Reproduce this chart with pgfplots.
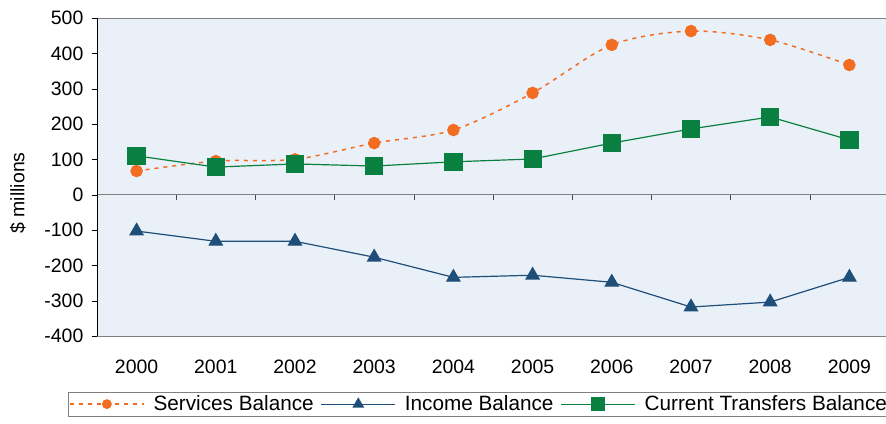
\documentclass[border=0pt]{standalone}
\usepackage{pgfplots}
\pgfplotsset{compat=1.18}
\usepackage{fontspec}
\setmainfont{Liberation Sans}
\definecolor{svc}{RGB}{242,108,34}
\definecolor{inc}{RGB}{31,78,121}
\definecolor{ctb}{RGB}{10,128,64}
\definecolor{bgblue}{RGB}{234,240,248}
\begin{document}
\fontsize{19.5}{22}\selectfont
\begin{tikzpicture}
\begin{axis}[
  scale only axis, width=792bp, height=318bp,
  xmin=-0.5, xmax=9.5, ymin=-400, ymax=500,
  ytick={-400,-300,...,500},
  xtick={0,...,9},
  xticklabels={2000,2001,2002,2003,2004,2005,2006,2007,2008,2009},
  xtick style={draw=none},
  xticklabel style={yshift=-12bp},
  ytick pos=left, tick align=outside,
  major tick length=5bp,
  ytick style={black},
  yticklabel style={xshift=-2bp},
  /pgf/number format/assume math mode=true,
  axis line style={draw=none},
  axis background/.style={fill=bgblue},
  ylabel={\$ millions},
  ylabel style={at={(axis description cs:-0.1,0.45)}, anchor=center},
  clip=false,
  legend columns=3,
  legend style={at={(axis description cs:-0.0367,-0.176)}, anchor=north west,
    draw=gray, fill=white, inner sep=1bp, column sep=7bp,
    font=\fontsize{20.8}{24}\selectfont,
    /tikz/every even column/.append style={column sep=5bp}},
  legend cell align=left,
  legend image code/.code={\draw[#1, every mark/.append style={scale=0.75}, mark repeat=2, mark phase=2]
    plot coordinates {(0bp,0bp) (37bp,0bp) (74bp,0bp)};},
]
\draw[gray] (rel axis cs:0,0) -- (rel axis cs:1.02,0);
\draw[gray] (rel axis cs:0,1) -- (rel axis cs:1.02,1);
\draw[gray] (axis cs:-0.5,0) -- (axis cs:10,0);
\draw[black] (rel axis cs:0,0) -- (rel axis cs:0,1);
\pgfplotsinvokeforeach{0.5,1.5,2.5,3.5,4.5,5.5,6.5,7.5,8.5}{\draw[black!70] (axis cs:#1,0) -- ([yshift=-5bp]axis cs:#1,0);}
\addplot[svc, line width=1.5bp, dash pattern=on 4bp off 5bp, smooth, tension=0.5,
  mark=*, mark size=5.5bp, mark options={solid, draw=svc, fill=svc}] coordinates {
  (0,67) (1,95) (2,100) (3,146) (4,183) (5,288) (6,424) (7,463) (8,438) (9,367)};
\addlegendentry{Services Balance}
\addplot[inc, line width=1.2bp,
  mark=triangle*, mark size=7.5bp, mark options={solid, fill=inc}] coordinates {
  (0,-103) (1,-132) (2,-132) (3,-177) (4,-234) (5,-228) (6,-248) (7,-318) (8,-304) (9,-234)};
\addlegendentry{Income Balance}
\addplot[ctb, line width=1.2bp,
  mark=square*, mark size=8.5bp, mark options={solid, fill=ctb}] coordinates {
  (0,110) (1,78) (2,87) (3,81) (4,93) (5,101) (6,146) (7,186) (8,220) (9,155)};
\addlegendentry{Current Transfers Balance}
\coordinate (sw) at (rel axis cs:0,0);
\end{axis}
\pgfresetboundingbox
\path[use as bounding box] ([shift={(-97bp,-88bp)}]sw) rectangle ([shift={(789bp,336bp)}]sw);
\end{tikzpicture}
\end{document}
